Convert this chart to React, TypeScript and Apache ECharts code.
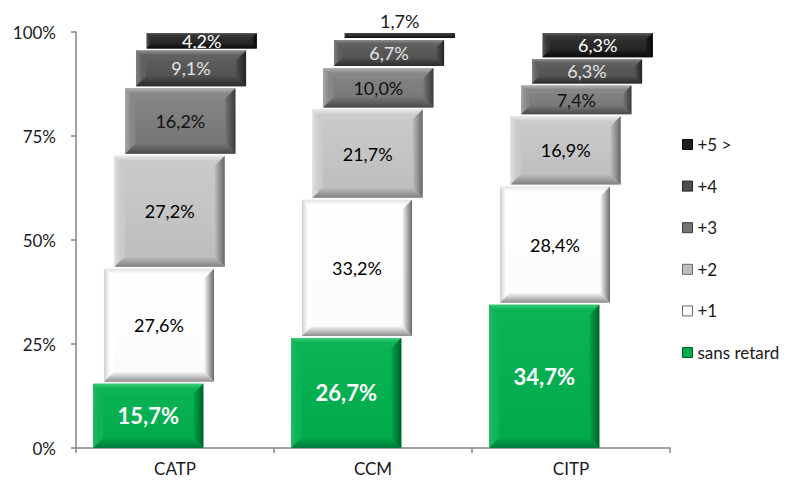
import React, { useEffect, useRef } from 'react';
import * as echarts from 'echarts';

const categories = ['CATP', 'CCM', 'CITP'];
const levelNames = ['sans retard', '+1', '+2', '+3', '+4', '+5 >'];
const sansRetard = [15.7, 26.7, 34.7];
const plus1 = [27.6, 33.2, 28.4];
const plus2 = [27.2, 21.7, 16.9];
const plus3 = [16.2, 10.0, 7.4];
const plus4 = [9.1, 6.7, 6.3];
const plus5 = [4.2, 1.7, 6.3];
const yTicks = [0, 25, 50, 75, 100];

const levels = [sansRetard, plus1, plus2, plus3, plus4, plus5];

const palettes = [
  { face: ['#0bb455', '#00a94b'], light: '#3ccb78', edgeL: '#22b862', dark: '#005f27', darker: '#00793a', label: '#ffffff', bold: true, size: 22 },
  { face: ['#ffffff', '#fbfbfb'], light: '#e2e2e2', edgeL: '#cfcfcf', dark: '#6a6a6a', darker: '#8e8e8e', label: '#000000', bold: false, size: 18 },
  { face: ['#cbcbcb', '#bdbdbd'], light: '#ececec', edgeL: '#dedede', dark: '#666666', darker: '#808080', label: '#000000', bold: false, size: 18 },
  { face: ['#878787', '#747474'], light: '#b4b4b4', edgeL: '#a5a5a5', dark: '#3a3a3a', darker: '#4a4a4a', label: '#111111', bold: false, size: 18 },
  { face: ['#606060', '#4e4e4e'], light: '#8e8e8e', edgeL: '#808080', dark: '#222222', darker: '#2c2c2c', label: '#e4e4e4', bold: false, size: 18 },
  { face: ['#353535', '#1e1e1e'], light: '#606060', edgeL: '#555555', dark: '#060606', darker: '#0c0c0c', label: '#ffffff', bold: false, size: 18 },
];

const fmt = (v: number) => v.toFixed(1).replace('.', ',') + '%';

function buildData(level: number) {
  return categories.map((_, i) => {
    let start = 0;
    for (let l = 0; l < level; l++) start += levels[l][i];
    const v = levels[level][i];
    return [i, start, start + v, v];
  });
}

function makeRender(level: number) {
  const pal = palettes[level];
  return (params: any, api: any) => {
    const cat = api.value(0);
    const start = api.value(1);
    const end = api.value(2);
    const v = api.value(3);
    const p0 = api.coord([cat, start]);
    const p1 = api.coord([cat, end]);
    const band = api.size([1, 0])[0];
    const w = band * 0.556;
    const off = (level - 2.5) * band * 0.054;
    const x = p0[0] - w / 2 + off;
    const yTop = p1[1] + 1;
    const yBot = p0[1] - (level === 0 ? 0 : 1);
    const h = Math.max(1, yBot - yTop);
    const b = Math.min(10, h * 0.28);
    const cx = x + w / 2;
    const LG = echarts.graphic.LinearGradient;
    const faceGrad = new LG(0, 0, 0, 1, [
      { offset: 0, color: pal.face[0] },
      { offset: 1, color: pal.face[1] },
    ]);
    const children: any[] = [
      { type: 'rect', shape: { x, y: yTop, width: w, height: h }, style: { fill: faceGrad } },
      {
        type: 'polygon',
        shape: { points: [[x, yTop], [x + w, yTop], [x + w - b, yTop + b], [x + b, yTop + b]] },
        style: { fill: new LG(0, 0, 0, 1, [{ offset: 0, color: pal.light }, { offset: 0.5, color: pal.face[0] }, { offset: 1, color: pal.face[0] }]) },
      },
      {
        type: 'polygon',
        shape: { points: [[x, yTop], [x + b, yTop + b], [x + b, yBot - b], [x, yBot]] },
        style: { fill: new LG(0, 0, 1, 0, [{ offset: 0, color: pal.edgeL }, { offset: 0.6, color: pal.face[0] }, { offset: 1, color: pal.face[0] }]) },
      },
      {
        type: 'polygon',
        shape: { points: [[x + w, yTop], [x + w, yBot], [x + w - b, yBot - b], [x + w - b, yTop + b]] },
        style: { fill: new LG(0, 0, 1, 0, [{ offset: 0, color: pal.face[1] }, { offset: 1, color: pal.dark }]) },
      },
      {
        type: 'polygon',
        shape: { points: [[x, yBot], [x + w, yBot], [x + w - b, yBot - b], [x + b, yBot - b]] },
        style: { fill: new LG(0, 0, 0, 1, [{ offset: 0, color: pal.face[1] }, { offset: 1, color: pal.darker }]) },
      },
    ];
    const outside = h < 12;
    children.push({
      type: 'text',
      style: {
        text: fmt(v),
        x: cx,
        y: outside ? yTop - 3 : (yTop + yBot) / 2,
        align: 'center',
        verticalAlign: outside ? 'bottom' : 'middle',
        fill: outside ? '#1a1a1a' : pal.label,
        fontFamily: 'Lato',
        fontSize: pal.size,
        fontWeight: pal.bold ? 'bold' : 'normal',
      },
    });
    return { type: 'group', children };
  };
}

export default function App() {
  const ref = useRef<HTMLDivElement>(null);
  useEffect(() => {
    if (!ref.current) return;
    const chart = echarts.init(ref.current, null, { renderer: 'svg' });
    const series = levelNames.map((name, level) => ({
      name,
      type: 'custom',
      renderItem: makeRender(level),
      encode: { x: 0, y: [1, 2] },
      clip: false,
      itemStyle: { color: palettes[level].face[1] },
      data: buildData(level),
      z: 2 + level,
    }));
    chart.setOption({
      animation: false,
      backgroundColor: '#ffffff',
      textStyle: { fontFamily: 'Lato' },
      grid: { left: 76, right: 123, top: 32, bottom: 35 },
      legend: {
        orient: 'vertical',
        left: 677,
        top: 131,
        itemWidth: 10,
        itemHeight: 10,
        itemGap: 24.6,
        itemTextGap: 4,
        icon: 'rect',
        textStyle: { fontFamily: 'Lato', fontSize: 17, color: '#1a1a1a' },
        data: levelNames
          .map((n, i) => ({ name: n, itemStyle: { color: palettes[i].face[1], borderColor: palettes[i].dark, borderWidth: 1 } }))
          .reverse(),
      },
      xAxis: {
        type: 'category',
        data: categories,
        boundaryGap: true,
        axisLine: { lineStyle: { color: '#868686', width: 1.5 } },
        axisTick: { show: true, length: 5, lineStyle: { color: '#868686', width: 1.5 } },
        axisLabel: { fontFamily: 'Lato', fontSize: 17, color: '#1a1a1a', margin: 12 },
      },
      yAxis: {
        type: 'value',
        min: yTicks[0],
        max: yTicks[yTicks.length - 1],
        interval: 25,
        splitLine: { show: false },
        axisLine: { show: true, lineStyle: { color: '#868686', width: 1.5 } },
        axisTick: { show: true, length: 5, lineStyle: { color: '#868686', width: 1.5 } },
        axisLabel: { fontFamily: 'Lato', fontSize: 17, color: '#1a1a1a', margin: 20, formatter: '{value}%' },
      },
      series,
    });
    return () => chart.dispose();
  }, []);
  return <div ref={ref} style={{ position: 'fixed', left: 0, top: 0, width: 793, height: 483 }} />;
}
